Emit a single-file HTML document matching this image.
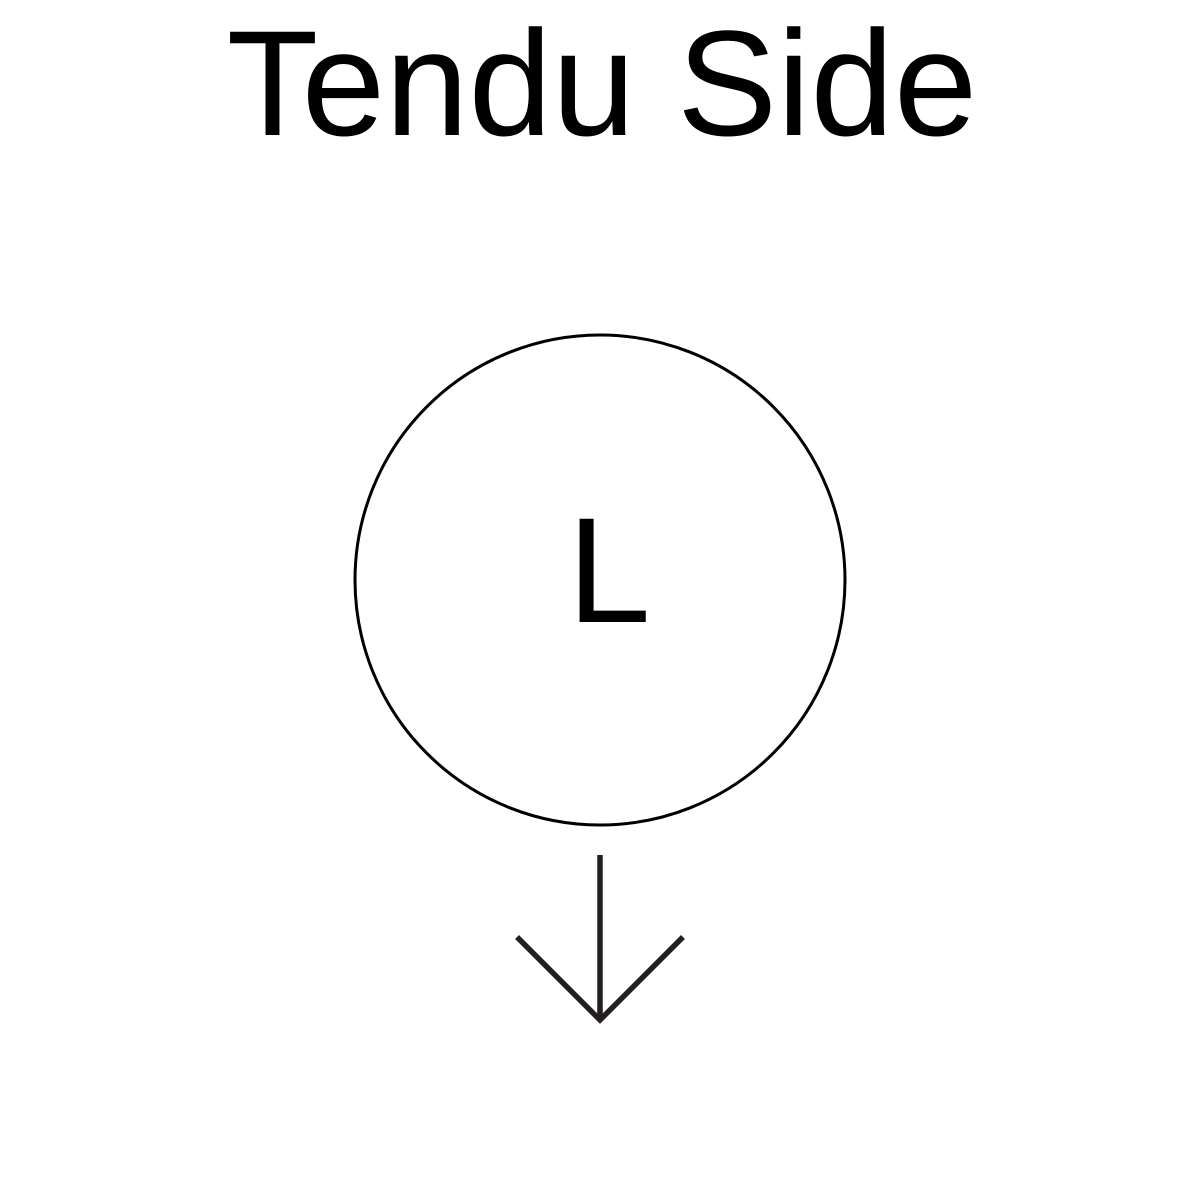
<!DOCTYPE html>
<html>
<head>
<meta charset="utf-8">
<style>
html,body{margin:0;padding:0;background:#fff;}
svg{display:block;}
</style>
</head>
<body>
<svg width="1200" height="1200" viewBox="0 0 1200 1200">
  <rect x="0" y="0" width="1200" height="1200" fill="#fff"/>
  <text x="602" y="135" text-anchor="middle" font-family="'Liberation Sans', Arial, sans-serif" font-size="150" fill="#000">Tendu Side</text>
  <circle cx="600" cy="580" r="245" fill="none" stroke="#000" stroke-width="3"/>
  <text x="609" y="622" text-anchor="middle" font-family="'Liberation Sans', Arial, sans-serif" font-size="150" fill="#000">L</text>
  <g stroke="#231f20" stroke-width="5.5" fill="none">
    <line x1="600" y1="855" x2="600" y2="1020"/>
    <polyline points="517,937 600,1020 683,937"/>
  </g>
</svg>
</body>
</html>
